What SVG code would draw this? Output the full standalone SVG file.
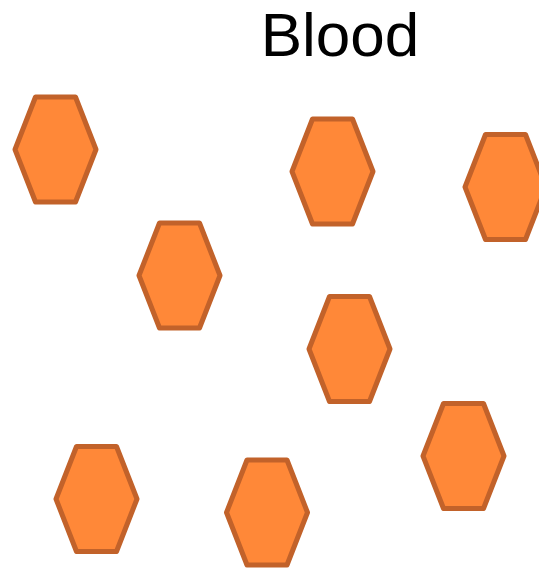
<svg xmlns="http://www.w3.org/2000/svg" width="539" height="570" viewBox="0 0 539 570">
<defs>
<style>
.hex{fill:#FF8838;stroke:#C2622A;stroke-width:5;stroke-linejoin:round}
.title{font-family:"Liberation Sans",Arial,sans-serif;font-size:62px;fill:#000}
</style>
<polygon id="hexshape" points="-40.5,0 -20,-52.5 20,-52.5 40.5,0 20,52.5 -20,52.5"/>
</defs>
<rect width="539" height="570" fill="#fff"/>
<text class="title" x="340" y="56" text-anchor="middle">Blood</text>
<g id="cell1"><use href="#hexshape" class="hex" x="55.5" y="149.5"/></g>
<g id="cell2"><use href="#hexshape" class="hex" x="179.5" y="275.5"/></g>
<g id="cell3"><use href="#hexshape" class="hex" x="332.5" y="171.5"/></g>
<g id="cell4"><use href="#hexshape" class="hex" x="505.5" y="187"/></g>
<g id="cell5"><use href="#hexshape" class="hex" x="349.5" y="349"/></g>
<g id="cell6"><use href="#hexshape" class="hex" x="463.5" y="456"/></g>
<g id="cell7"><use href="#hexshape" class="hex" x="96.5" y="499"/></g>
<g id="cell8"><use href="#hexshape" class="hex" x="267" y="512.5"/></g>
<g id="connectors"></g>
</svg>
